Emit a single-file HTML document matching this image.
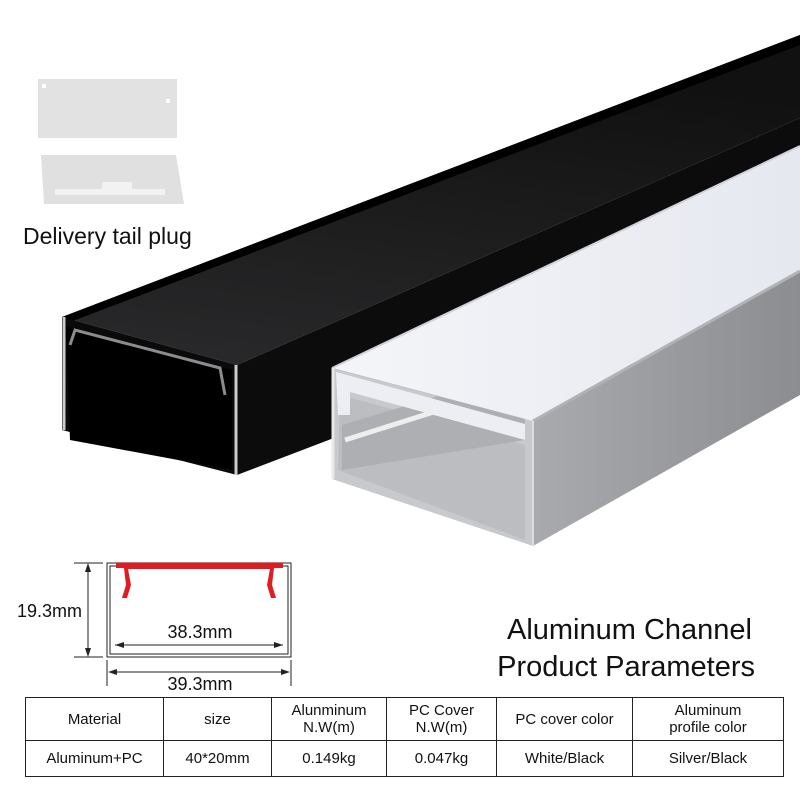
<!DOCTYPE html>
<html><head><meta charset="utf-8"><style>
body{margin:0;background:#fff;width:800px;height:800px;overflow:hidden;font-family:"Liberation Sans",sans-serif}
svg{position:absolute;left:0;top:0}
table{position:absolute;left:25px;top:697px;border-collapse:collapse;font-size:15px;color:#111}
td{border:1px solid #222;text-align:center;line-height:17px;padding:0}
</style></head><body>
<svg width="800" height="800" viewBox="0 0 800 800">
<defs>
<linearGradient id="bt" x1="0" y1="1" x2="0.3" y2="0"><stop offset="0" stop-color="#2a2a2c"/><stop offset="1" stop-color="#111"/></linearGradient>
<linearGradient id="wc" x1="0" y1="0" x2="1" y2="0"><stop offset="0" stop-color="#f4f5f8"/><stop offset="1" stop-color="#e6e8f0"/></linearGradient>
<linearGradient id="ss" x1="0" y1="0" x2="1" y2="0"><stop offset="0" stop-color="#a9aaae"/><stop offset="1" stop-color="#8c8d91"/></linearGradient>
</defs>
<rect x="38" y="79" width="139" height="59" fill="#e2e2e2"/>
<rect x="42" y="84" width="4" height="4" fill="#fff"/><rect x="166" y="99" width="4" height="4" fill="#fff"/>
<polygon points="41,155 176,155 184,204 44,204" fill="#e0e0e0"/>
<rect x="55" y="189" width="110" height="6" fill="#f2f2f2"/><rect x="102" y="182" width="30" height="8" fill="#f2f2f2"/>
<text x="23" y="244" font-size="23" fill="#111">Delivery tail plug</text>
<polygon points="62,317 800,35 800,118 237,365" fill="url(#bt)"/>
<polygon points="62,317 800,35 800,45 70,322" fill="#000"/>
<polygon points="237,365 800,118 800,260 237,475" fill="#0c0c0c"/>
<polygon points="62,317 237,365 237,475 62,430" fill="#0a0a0a"/>
<polygon points="66,327 232,370 232,470 70,440" fill="#000"/>
<polyline points="70,345 75,330 220,368 225,395" fill="none" stroke="#8a8c90" stroke-width="3"/>
<line x1="64" y1="317" x2="64" y2="430" stroke="#ccc" stroke-width="3"/>
<line x1="236" y1="365" x2="236" y2="475" stroke="#ccc" stroke-width="3"/>
<polygon points="533,421 800,271 800,395 533,546" fill="url(#ss)"/>
<polygon points="332,368 533,421 533,546 332,479" fill="#c8c9cd"/>
<polygon points="340,395 525,445 525,540 338,470" fill="#bcbdc1"/>
<polygon points="342,425 525,370 525,440 342,470" fill="#aeafb3"/>
<line x1="345" y1="440" x2="440" y2="410" stroke="#eee" stroke-width="5"/>
<polygon points="332,368 800,146 800,271 533,421" fill="url(#wc)"/>
<polygon points="336,372 525,424 525,440 350,392 350,415 338,415" fill="#eceef3"/>
<line x1="332" y1="368" x2="800" y2="146" stroke="#d0d2d8" stroke-width="2"/>
<line x1="533" y1="421" x2="800" y2="271" stroke="#b0b2b6" stroke-width="3"/>
<line x1="333" y1="368" x2="333" y2="479" stroke="#e8e8e8" stroke-width="3"/>
<line x1="533" y1="421" x2="533" y2="546" stroke="#ddd" stroke-width="2"/>
<g stroke="#222" stroke-width="1" fill="none">
<rect x="107" y="563" width="184" height="94"/>
<rect x="110" y="566" width="178" height="88"/>
<line x1="74" y1="563" x2="103" y2="563"/><line x1="74" y1="657" x2="103" y2="657"/>
<line x1="88" y1="567" x2="88" y2="653"/>
<line x1="115" y1="645" x2="283" y2="645"/>
<line x1="110" y1="672" x2="288" y2="672"/>
<line x1="107" y1="660" x2="107" y2="686"/><line x1="291" y1="660" x2="291" y2="686"/>
</g>
<g fill="#222">
<polygon points="88,563 85,572 91,572"/><polygon points="88,657 85,648 91,648"/>
<polygon points="115,645 124,642 124,648"/><polygon points="283,645 274,642 274,648"/>
<polygon points="108,672 117,669 117,675"/><polygon points="290,672 281,669 281,675"/>
</g>
<polygon points="116,563 283,563 283,568 274,568 272,585 276,598 271,598 267,585 270,569 128,569 131,585 127,598 122,598 126,585 124,568 116,568" fill="#e21b23"/>
<text x="17" y="617" font-size="18" fill="#111">19.3mm</text>
<text x="200" y="638" font-size="18" fill="#111" text-anchor="middle">38.3mm</text>
<text x="200" y="690" font-size="18" fill="#111" text-anchor="middle">39.3mm</text>
<text x="752" y="639" font-size="29" fill="#111" text-anchor="end">Aluminum Channel</text>
<text x="755" y="676" font-size="29" fill="#111" text-anchor="end">Product Parameters</text>
</svg>
<table>
<tr style="height:43px"><td style="width:137px">Material</td><td style="width:107px">size</td><td style="width:114px">Alunminum<br>N.W(m)</td><td style="width:109px">PC Cover<br>N.W(m)</td><td style="width:135px">PC cover color</td><td style="width:150px">Aluminum<br>profile color</td></tr>
<tr style="height:36px"><td>Aluminum+PC</td><td>40*20mm</td><td>0.149kg</td><td>0.047kg</td><td>White/Black</td><td>Silver/Black</td></tr>
</table>
</body></html>
